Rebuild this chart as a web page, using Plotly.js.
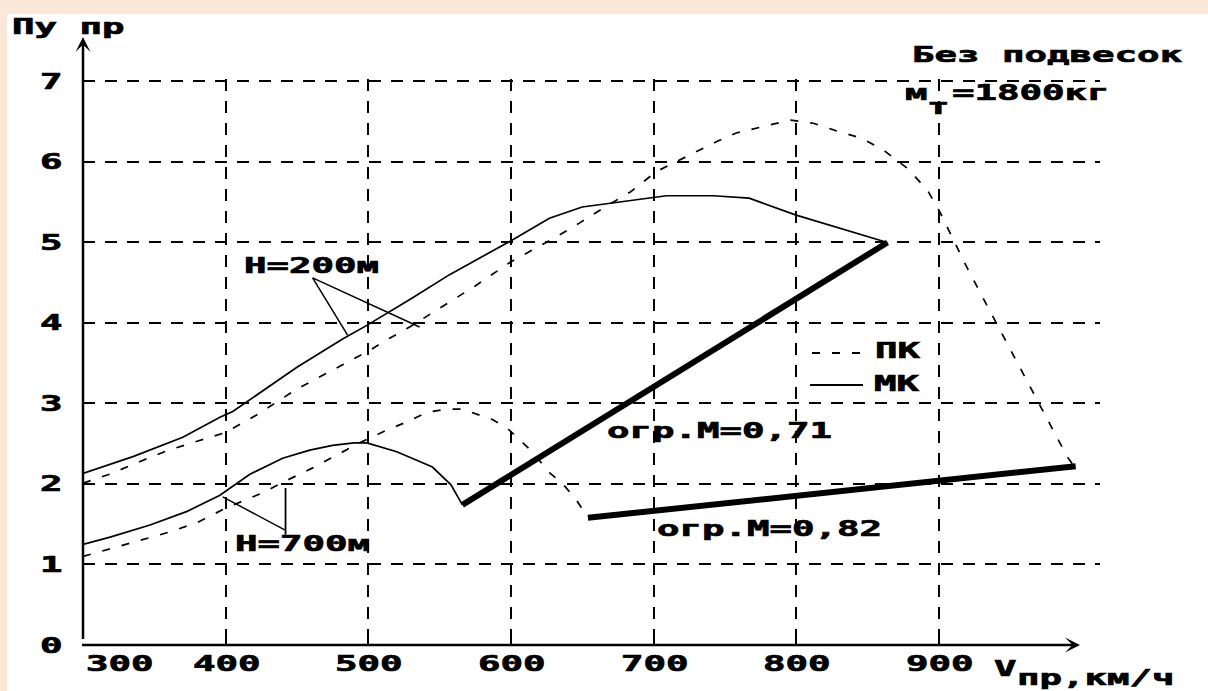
<!DOCTYPE html>
<html><head><meta charset="utf-8">
<script src="https://cdn.plot.ly/plotly-3.0.1.min.js"></script>
<style>
html,body{margin:0;padding:0;background:#fff;}
#chart{width:1208px;height:691px;}
#chart .annotation-text{transform-box:fill-box;transform-origin:0 50%;transform:scaleX(1.7);stroke:#000;stroke-width:0.7px;}
</style></head><body><div id="chart"></div>
<script>
// ---------- data ----------
const vMK200 = [300, 335, 370, 396, 405, 450, 482, 499, 530, 557, 601, 627, 650, 675, 699, 709, 742, 767, 800, 830, 864];
const nMK200 = [2.13, 2.34, 2.58, 2.83, 2.90, 3.45, 3.80, 3.97, 4.30, 4.60, 5.03, 5.30, 5.44, 5.50, 5.55, 5.58, 5.58, 5.55, 5.34, 5.18, 5.00];

const vPK200 = [300, 320, 340, 360, 380, 400, 422, 450, 482, 500, 515, 529, 548, 575, 600, 630, 648, 665, 684, 702, 728, 744, 758, 777, 796, 812, 831, 845, 861, 878, 892, 901, 920, 940, 960, 980, 990, 994];
const nPK200 = [2.01, 2.13, 2.28, 2.42, 2.53, 2.64, 2.86, 3.18, 3.48, 3.65, 3.81, 3.95, 4.16, 4.46, 4.76, 5.05, 5.24, 5.43, 5.63, 5.88, 6.11, 6.25, 6.36, 6.44, 6.52, 6.48, 6.37, 6.30, 6.15, 5.92, 5.65, 5.37, 4.68, 4.01, 3.34, 2.67, 2.34, 2.24];

const vMK700 = [300, 319, 347, 373, 396, 417, 440, 459, 475, 490, 499, 508, 520, 545, 558, 566];
const nMK700 = [1.25, 1.34, 1.49, 1.66, 1.86, 2.12, 2.32, 2.42, 2.48, 2.51, 2.51, 2.46, 2.40, 2.21, 1.99, 1.74];

const vPK700 = [300, 320, 340, 360, 380, 400, 426, 440, 461, 478, 495, 513, 527, 541, 555, 566, 578, 587, 597, 608, 615, 627, 636, 646, 654];
const nPK700 = [1.10, 1.20, 1.30, 1.40, 1.52, 1.70, 1.89, 2.02, 2.20, 2.36, 2.52, 2.67, 2.77, 2.89, 2.93, 2.93, 2.86, 2.80, 2.70, 2.51, 2.40, 2.14, 2.01, 1.80, 1.58];

const vLim071 = [566, 864];
const nLim071 = [1.74, 5.00];
const vLim082 = [654, 996];
const nLim082 = [1.58, 2.22];

const xTickVals = [300, 400, 500, 600, 700, 800, 900];
const xTickText = ['300', '400', '500', '600', '700', '800', '900'];
const yTickVals = [0, 1, 2, 3, 4, 5, 6, 7];
const yTickText = ['0', '1', '2', '3', '4', '5', '6', '7'];

const yAxisTitle = 'Пу пр';
const xAxisTitleMain = 'V';
const xAxisTitleSub = 'пр,км/ч';
const noteLine1 = 'Без подвесок';
const noteMass = ['м', 'т', '=1800кг'];
const labelH200 = 'Н=200м';
const labelH700 = 'Н=700м';
const labelM071 = 'огр.М=0,71';
const labelM082 = 'огр.М=0,82';
const legendPK = 'ПК';
const legendMK = 'МК';

// ---------- layout geometry ----------
const W = 1208, H = 691;
const M = {l: 83, r: 108, t: 79, b: 46};
const PW = W - M.l - M.r, PH = H - M.t - M.b;
const px2x = px => (px - M.l) / PW;
const py2y = py => (H - M.b - py) / PH;
const FONT = 'DejaVu Sans Mono';
const FS = 22, SX = 1.7, ADV = FS * 0.602 * SX;
const PEACH = '#fbe8d9';
const DASH = '8px,12px';

function txt(t, leftPx, cyPx) {
  return {xref: 'paper', yref: 'paper', x: px2x(leftPx - 5), y: py2y(cyPx),
    xanchor: 'left', yanchor: 'middle', showarrow: false, text: t,
    font: {family: FONT, size: FS, color: '#000', weight: 'bold'}};
}

const line = (x, y, style) => Object.assign({x: x, y: y, type: 'scatter', mode: 'lines', hoverinfo: 'skip', showlegend: false}, style);

const traces = [
  line(vMK200, nMK200, {line: {color: '#000', width: 1.7}}),
  line(vPK200, nPK200, {line: {color: '#000', width: 1.7, dash: DASH}}),
  line(vMK700, nMK700, {line: {color: '#000', width: 1.7}}),
  line(vPK700, nPK700, {line: {color: '#000', width: 1.7, dash: DASH}}),
  line(vLim071, nLim071, {line: {color: '#000', width: 6}}),
  line(vLim082, nLim082, {line: {color: '#000', width: 6}})
];

const annotations = [];
// x tick labels
xTickVals.forEach((v, i) => {
  const w = xTickText[i].length * ADV;
  const centerShift = (v === xTickVals[0]) ? 39 : 3;
  annotations.push({xref: 'x', yref: 'paper', x: v, y: py2y(663), xanchor: 'left', yanchor: 'middle',
    xshift: centerShift - w / 2 - 4, showarrow: false, text: xTickText[i],
    font: {family: FONT, size: FS, color: '#000', weight: 'bold'}});
});
// y tick labels
yTickVals.forEach((v, i) => {
  annotations.push({xref: 'paper', yref: 'y', x: px2x(43 - 5), y: v, xanchor: 'left', yanchor: 'middle',
    showarrow: false, text: yTickText[i],
    font: {family: FONT, size: FS, color: '#000', weight: 'bold'}});
});
annotations.push(txt(yAxisTitle, 15, 26));
annotations.push(txt(xAxisTitleMain, 997, 668));
annotations.push(txt(xAxisTitleSub, 1020, 677));
annotations.push(txt(noteLine1, 915, 55));
annotations.push(txt(noteMass[0], 908, 92));
annotations.push(txt(noteMass[1], 930, 106));
annotations.push(txt(noteMass[2], 955, 92));
annotations.push(txt(labelH200, 247, 265));
annotations.push(txt(labelH700, 238, 543));
annotations.push(txt(labelM071, 610, 430));
annotations.push(txt(labelM082, 660, 528));
annotations.push(txt(legendPK, 878, 350));
annotations.push(txt(legendMK, 877, 383));
// axis arrows
annotations.push({xref: 'paper', yref: 'paper', x: 0, y: py2y(37), axref: 'pixel', ayref: 'pixel', ax: 0, ay: 645 - 37 + 4,
  showarrow: true, arrowhead: 3, arrowsize: 1, arrowwidth: 2.5, arrowcolor: '#000', standoff: 0, text: ' '});
annotations.push({xref: 'paper', yref: 'paper', x: px2x(1080), y: 0, axref: 'pixel', ayref: 'pixel', ax: -(1080 - 83) - 4, ay: 0,
  showarrow: true, arrowhead: 3, arrowsize: 1, arrowwidth: 2.5, arrowcolor: '#000', standoff: 0, text: ' '});

const shapes = [
  // peach frame strips
  {type: 'rect', xref: 'paper', yref: 'paper', x0: px2x(0), x1: px2x(W), y0: py2y(14), y1: py2y(0), fillcolor: PEACH, line: {width: 0}, layer: 'below'},
  {type: 'rect', xref: 'paper', yref: 'paper', x0: px2x(0), x1: px2x(7), y0: py2y(H), y1: py2y(0), fillcolor: PEACH, line: {width: 0}, layer: 'below'},
  // pointer lines H=200
  {type: 'line', xref: 'x', yref: 'y', x0: 461, y0: 4.56, x1: 485.5, y1: 3.85, line: {color: '#000', width: 1.5}},
  {type: 'line', xref: 'x', yref: 'y', x0: 461, y0: 4.56, x1: 536, y1: 3.95, line: {color: '#000', width: 1.5}},
  // pointer lines H=700
  {type: 'line', xref: 'x', yref: 'y', x0: 398, y0: 1.84, x1: 441.4, y1: 1.43, line: {color: '#000', width: 1.5}},
  {type: 'line', xref: 'x', yref: 'y', x0: 442, y0: 1.95, x1: 442, y1: 1.37, line: {color: '#000', width: 1.8}},
  // legend samples
  {type: 'line', xref: 'paper', yref: 'paper', x0: px2x(812), x1: px2x(870), y0: py2y(353), y1: py2y(353), line: {color: '#000', width: 2, dash: DASH}},
  {type: 'line', xref: 'paper', yref: 'paper', x0: px2x(810), x1: px2x(863), y0: py2y(385), y1: py2y(385), line: {color: '#000', width: 2}}
];

const layout = {
  width: W, height: H,
  margin: M,
  paper_bgcolor: '#fff', plot_bgcolor: '#fff',
  showlegend: false,
  xaxis: {range: [300, 300 + PW / 1.4263], tickvals: xTickVals.slice(1), showticklabels: false,
    showgrid: true, gridcolor: '#000', gridwidth: 2, griddash: '12px,10px',
    zeroline: false, showline: false, ticks: 'inside', ticklen: 6, tickwidth: 2, tickcolor: '#000', fixedrange: true},
  yaxis: {range: [0, 7.03], tickvals: yTickVals.slice(1), showticklabels: false,
    showgrid: true, gridcolor: '#000', gridwidth: 2, griddash: '12px,10px',
    zeroline: false, showline: false, ticks: 'inside', ticklen: 6, tickwidth: 2, tickcolor: '#000', fixedrange: true},
  annotations: annotations,
  shapes: shapes
};

Plotly.newPlot('chart', traces, layout, {staticPlot: true, displayModeBar: false});
</script></body></html>
